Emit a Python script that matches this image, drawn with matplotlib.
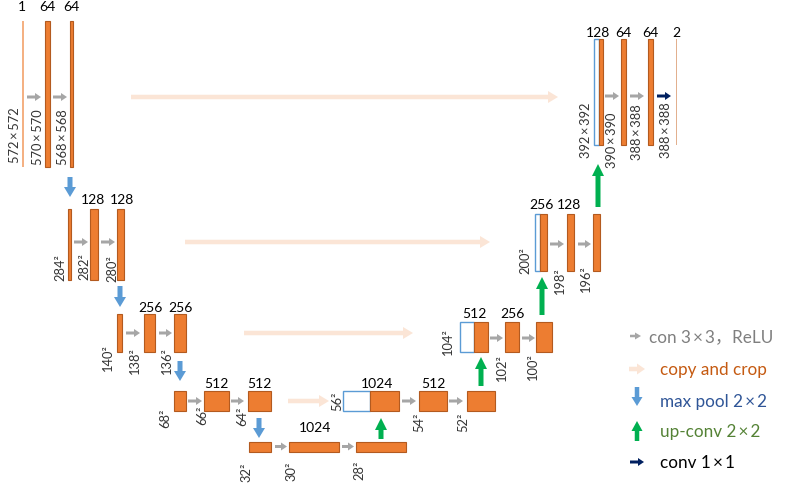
import matplotlib
matplotlib.use("Agg")
import matplotlib.pyplot as plt
from matplotlib.patches import Rectangle, FancyArrow

# ---------------- data (texts of the diagram) ----------------
channel_labels = ["1", "64", "64", "128", "128", "256", "256", "512", "512", "1024",
                  "1024", "512", "512", "256", "256", "128", "128", "64", "64", "2"]
size_labels = ["572×572", "570×570", "568×568", "284²", "282²", "280²",
               "140²", "138²", "136²", "68²", "66²", "64²", "32²", "30²", "28²",
               "56²", "54²", "52²", "104²", "102²", "100²", "200²", "198²", "196²",
               "392×392", "390×390", "388×388", "388×388"]
legend_labels = ["con 3×3，ReLU", "copy and crop", "max pool 2×2", "up-conv 2×2", "conv 1×1"]

# ---------------- layout (pixel space) ----------------
# boxes: x0, x1, y0, y1, style
boxes = [
    (22, 23.5, 22, 168, "thin"), (45, 49.5, 22, 168, "o"), (69.5, 72.5, 22, 168, "o"),
    (68, 71, 210, 281, "o"), (90, 97.5, 210, 281, "o"), (117, 123.5, 210, 281, "o"),
    (117, 122, 315, 353, "o"), (144, 155, 315, 353, "o"), (174, 186, 315, 353, "o"),
    (174, 186, 392, 411.5, "o"), (204, 229, 392, 411.5, "o"), (248, 271, 392, 411.5, "o"),
    (249, 271, 442.5, 452.5, "o"), (289, 339, 442.5, 452.5, "o"), (356, 406, 442.5, 452.5, "o"),
    (343, 370, 392, 411.5, "w"), (370, 399, 392, 411.5, "o"), (419, 447, 392, 411.5, "o"), (467, 495, 392, 411.5, "o"),
    (460, 474, 323, 353, "w"), (474, 487.5, 323, 353, "o"), (505, 519, 323, 353, "o"), (536, 552, 323, 353, "o"),
    (534.5, 539.5, 215, 272, "w"), (539.5, 546.5, 215, 272, "o"), (567, 573.5, 215, 272, "o"), (593, 600, 215, 272, "o"),
    (594, 598.5, 39.5, 145.5, "w"), (598.5, 603, 39.5, 145.5, "o"), (621, 625.5, 39.5, 145.5, "o"),
    (648, 652.5, 39.5, 145.5, "o"), (676, 677, 39.5, 145.5, "out"),
]
channel_pos = [(22, 7), (47, 7), (71, 7), (93, 200), (122, 200), (150, 308), (180, 308),
               (216, 384), (259, 384), (315, 428), (377, 384), (433, 384), (474, 314), (512, 314),
               (541, 205), (569, 205), (598, 33), (623, 33), (650, 33), (676, 33)]
size_pos = [(15, 135), (38, 137), (63, 137), (60, 268), (84, 267), (112, 269),
            (108, 358), (135, 361), (167, 361), (165, 418), (202, 415), (242, 416),
            (246, 472), (291, 471), (359, 470), (337, 401), (419, 422), (463, 422),
            (448, 342), (502, 368), (533, 367), (525, 261), (560, 281), (586, 279),
            (586, 130), (612, 140), (637, 132), (666, 130)]
gray_arrows = [(27, 41, 98), (53, 67, 98), (74, 88, 243), (101, 115, 243),
               (126, 140, 334), (159, 172, 334), (188, 202, 402), (231, 244, 402),
               (275, 287, 447.5), (342, 354, 447.5), (402, 416, 402), (449, 463, 402),
               (490, 503, 339), (522, 535, 339), (550, 564, 245), (578, 591, 245),
               (605, 619, 97), (630, 644, 97)]
navy_arrows = [(657, 671, 97)]
copy_arrows = [(131, 558, 98), (185, 490, 243), (244, 413, 334), (288, 329, 402)]
pool_arrows = [(70, 178, 198), (120, 287, 308), (180, 362, 382), (259, 419, 439)]
up_arrows = [(381, 440, 419), (481, 387, 358), (542, 316, 278), (598, 208, 165)]

ORANGE = "#ED7D31"
EDGE = "#B35A1F"
THIN = "#F4B183"
OUTC = "#E2B08F"
WEDGE = "#5B9BD5"
GRAY = "#A6A6A6"
PEACH = "#FBE5D6"
BLUE = "#5B9BD5"
GREEN = "#00B050"
NAVY = "#002060"

W, H = 793, 489
fig = plt.figure(figsize=(W / 100, H / 100), dpi=100)
ax = fig.add_axes([0, 0, 1, 1])
ax.set_xlim(0, W)
ax.set_ylim(H, 0)
ax.axis("off")

NUMF = ["Lato", "DejaVu Sans", "Noto Sans CJK SC"]

for x0, x1, y0, y1, st in boxes:
    if st == "o":
        ax.add_patch(Rectangle((x0, y0), x1 - x0, y1 - y0, facecolor=ORANGE, edgecolor=EDGE, lw=0.8))
    elif st == "w":
        ax.add_patch(Rectangle((x0, y0), x1 - x0, y1 - y0, facecolor="white", edgecolor=WEDGE, lw=1.0))
    elif st == "thin":
        ax.add_patch(Rectangle((x0, y0), x1 - x0, y1 - y0, facecolor=THIN, edgecolor="none"))
    else:
        ax.add_patch(Rectangle((x0, y0), x1 - x0, y1 - y0, facecolor=OUTC, edgecolor="none"))

for t, (x, y) in zip(channel_labels, channel_pos):
    ax.text(x, y, t, ha="center", va="center", fontsize=10, family=NUMF, color="black")

for t, (x, y) in zip(size_labels, size_pos):
    shown = t.replace("×", "\u2009×\u2009")
    ax.text(x, y, shown, ha="center", va="center", rotation=90, fontsize=9.3, family=NUMF, color="#333333")


def harrow(x0, x1, y, color, sw, hw, hl):
    ax.add_patch(FancyArrow(x0, y, x1 - x0, 0, width=sw, head_width=hw, head_length=hl,
                            length_includes_head=True, color=color, lw=0))


def varrow(x, y0, y1, color, sw, hw, hl):
    ax.add_patch(FancyArrow(x, y0, 0, y1 - y0, width=sw, head_width=hw, head_length=hl,
                            length_includes_head=True, color=color, lw=0))


for x0, x1, y in copy_arrows:
    harrow(x0, x1, y, PEACH, 4.5, 12, 10)
for x0, x1, y in gray_arrows:
    harrow(x0, x1, y, GRAY, 3, 8, 6)
for x0, x1, y in navy_arrows:
    harrow(x0, x1, y, NAVY, 3, 8, 6)
for x, y0, y1 in pool_arrows:
    varrow(x, y0, y1, BLUE, 5, 12, 10)
for x, y0, y1 in up_arrows:
    varrow(x, y0, y1, GREEN, 5, 12, 12)

# legend
leg_colors = ["#7F7F7F", "#C55A11", "#2F5597", "#548235", "black"]
leg_text_pos = [(649, 337), (660, 370), (660, 402), (660, 432), (660, 463)]
harrow(630, 641, 337, GRAY, 2.5, 7, 6)
harrow(629, 645, 370, PEACH, 4.5, 11, 8)
varrow(637, 388, 407, BLUE, 4.5, 11, 9)
varrow(637, 442, 422, GREEN, 4.5, 11, 10)
harrow(630, 644, 463, NAVY, 3, 8, 6)
for t, c, (x, y) in zip(legend_labels, leg_colors, leg_text_pos):
    shown = t.replace("×", "\u2009×\u2009")
    ax.text(x, y, shown, ha="left", va="center", fontsize=12.3, family=NUMF, color=c)

fig.savefig("out.png", dpi=100)
